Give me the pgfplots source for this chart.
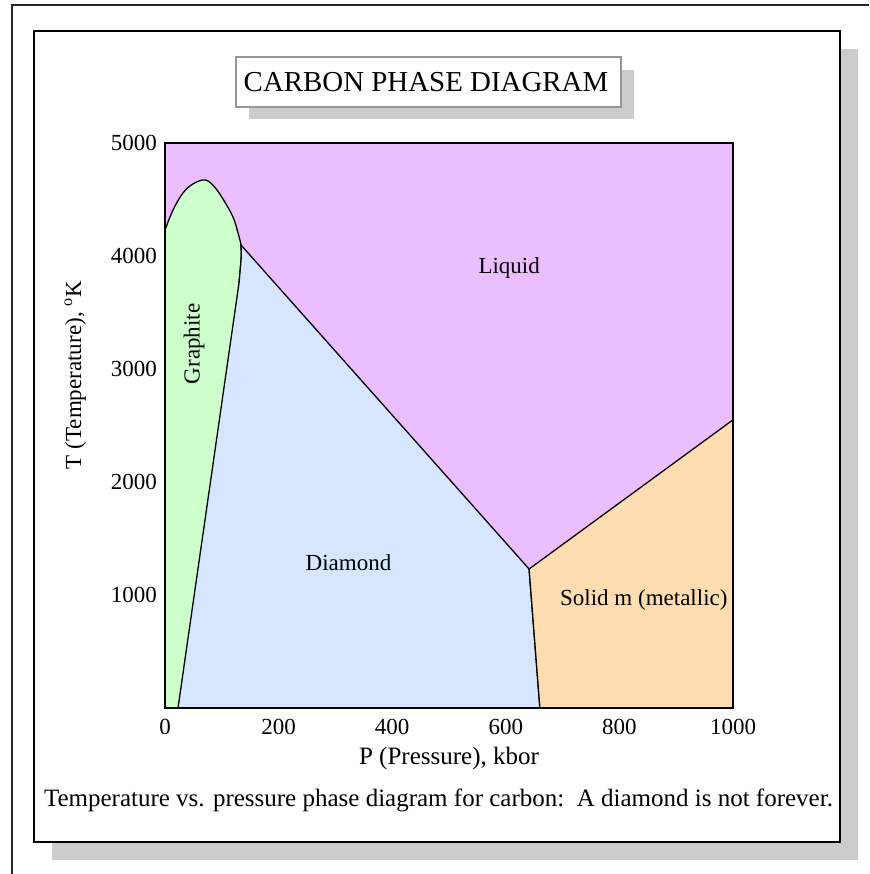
\documentclass[border=0pt]{standalone}
\usepackage{fontspec}
\setmainfont{Liberation Serif}
\usepackage{pgfplots}
\pgfplotsset{compat=1.18}

\definecolor{liquid}{RGB}{235,191,255}
\definecolor{graphite}{RGB}{204,255,204}
\definecolor{diamond}{RGB}{214,230,255}
\definecolor{metallic}{RGB}{255,221,176}
\definecolor{shadow}{RGB}{204,204,204}
\definecolor{boxgray}{RGB}{150,150,150}

\newcommand{\lbl}{\fontsize{23}{27}\selectfont}

\begin{document}
\begin{tikzpicture}[x=1pt,y=1pt]
\useasboundingbox (0,0) rectangle (869,874);
% page edge
\draw[line width=1.5pt, black!85] (12,0) -- (12,869) -- (869,869);
% panel with drop shadow
\fill[shadow] (52,14) rectangle (858,825);
\draw[line width=1.6pt, fill=white] (34,32) rectangle (840,843);
% title box with drop shadow
\fill[shadow] (249,755) rectangle (634,804);
\draw[line width=1.2pt, draw=boxgray, fill=white] (236,767) rectangle (621,817);
\node[font=\fontsize{28.9}{33}\selectfont] at (426,792) {CARBON PHASE DIAGRAM};

\begin{axis}[
  at={(165pt,166pt)}, anchor=south west,
  scale only axis,
  width=568pt, height=565pt,
  xmin=0, xmax=1000, ymin=0, ymax=5000,
  xtick={0,200,400,600,800,1000},
  ytick={1000,2000,3000,4000,5000},
  major tick length=0pt,
  axis line style={line width=1.5pt},
  axis background/.style={fill=liquid},
  /pgf/number format/assume math mode=true,
  /pgf/number format/set thousands separator={},
  tick label style={font=\lbl, inner sep=0pt},
  xticklabel style={anchor=north, yshift=-11pt},
  yticklabel style={anchor=east, xshift=-8pt},
  xlabel={P (Pressure), kbor},
  ylabel={T (Temperature), \textsuperscript{o}K},
  label style={font=\lbl},
  xlabel style={font=\fontsize{25}{29}\selectfont, at={(axis description cs:0.5,-0.0885)}, anchor=center},
  ylabel style={at={(axis description cs:-0.158,0.589)}, anchor=center},
  axis on top,
]
% graphite (fill)
\addplot[fill=graphite, draw=none] coordinates {
  (0,0) (0,4230) (5.3,4310) (14.1,4407) (22.9,4487) (31.7,4558)
  (44.0,4611) (56.3,4655) (63.4,4668) (70.4,4673) (77.5,4660)
  (86,4618) (93.3,4566) (102,4505) (110.9,4425) (119.7,4345)
  (125.0,4274) (128.5,4204) (132,4150) (133.8,4097) (134.4,4009)
  (133.5,3938) (130.3,3761) (22.9,0)
} -- cycle;
% graphite / liquid boundary
\addplot[draw=black, line width=1.3pt, smooth, tension=0.6] coordinates {
  (0,4230) (14.1,4407) (31.7,4558) (50,4640) (70.4,4673)
  (86,4618) (102,4505) (119.7,4345) (128.5,4204)
  (133.8,4097) (134.4,4009) (133.5,3938) (130.3,3761)
};
% diamond
\addplot[fill=diamond, draw=black, line width=1.3pt] coordinates {
  (22.9,0) (130.3,3761) (133.5,3938) (134.4,4009) (133.8,4097) (641,1230) (660,0)
} -- cycle;
% solid m (metallic)
\addplot[fill=metallic, draw=black, line width=1.3pt] coordinates {
  (641,1230) (1000,2550) (1000,0) (660,0)
} -- cycle;

\node[font=\lbl] at (axis cs:606,3894) {Liquid};
\node[font=\lbl] at (axis cs:323,1283) {Diamond};
\node[font=\lbl] at (axis cs:843,956) {Solid m (metallic)};
\node[font=\lbl, rotate=90] at (axis cs:51,3221) {Graphite};
\end{axis}

\node[font=\fontsize{25}{29}\selectfont] at (438.5,74) {Temperature vs. pressure phase diagram for carbon:\ \ A diamond is not forever.};
\end{tikzpicture}
\end{document}
